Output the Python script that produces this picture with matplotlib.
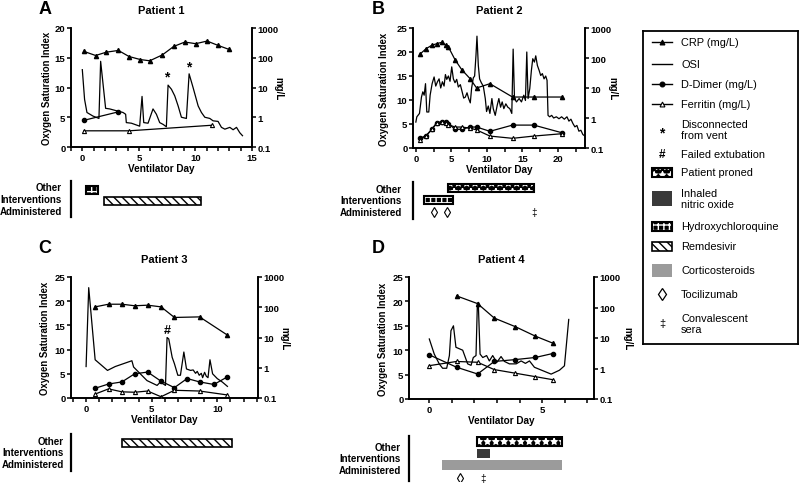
import matplotlib.pyplot as plt
from matplotlib.patches import Rectangle
from matplotlib.ticker import FixedLocator, MultipleLocator, FuncFormatter, NullLocator

plt.rcParams['font.family'] = ['Liberation Sans', 'DejaVu Sans']
plt.rcParams['font.weight'] = 'bold'
plt.rcParams['axes.labelweight'] = 'bold'
plt.rcParams['hatch.linewidth'] = 1.0

# ---------------- Patient 1 ----------------
p1_osi_day = [0, 0.2, 0.41, 0.94, 1.47, 1.62, 2.06, 2.42, 3.0, 3.6, 3.83, 3.89, 4.34, 4.78, 5.07,
              5.28, 5.43, 5.81, 6.25, 6.55, 6.84, 7.14, 7.43, 7.58, 7.88, 8.17, 8.47, 8.76, 9.2,
              9.44, 9.79, 10.24, 10.53, 10.83, 11.27, 11.56, 12.0, 12.3, 12.6, 13.04, 13.33, 13.63,
              13.92, 14.16]
p1_osi = [13.0, 8.0, 5.8, 5.2, 4.8, 14.4, 6.5, 6.4, 6.1, 5.8, 5.5, 4.1, 4.0, 3.7, 3.5,
          8.5, 4.1, 4.0, 6.4, 5.5, 4.1, 3.8, 3.4, 10.4, 9.7, 8.6, 6.9, 5.0, 4.8,
          12.3, 10.0, 6.9, 5.8, 5.0, 4.8, 4.4, 4.3, 3.3, 3.0, 3.3, 2.9, 3.3, 2.4, 1.9]
p1_crp_day = [0.15, 1.18, 2.12, 3.19, 4.13, 5.13, 5.96, 7.08, 8.08, 9.06, 10.03, 11.03, 12.0, 12.98]
p1_crp = [163, 119, 154, 176, 110, 87, 79, 125, 240, 337, 297, 364, 260, 190]
p1_dd_day = [0.15, 3.19]
p1_dd = [0.79, 1.52]
p1_fer_day = [0.15, 4.13, 11.5]
p1_fer = [0.35, 0.35, 0.54]
p1_disconnect_day = [7.5, 9.44]
p1_disconnect_osi = [10.6, 12.4]
p1_drug = ['hcq', 'rem']
p1_drug_start = [0.35, 1.95]
p1_drug_end = [1.4, 10.5]

# ---------------- Patient 2 ----------------
p2_osi_day = [0, 0.14, 0.51, 0.79, 0.98, 1.17, 1.36, 1.54, 1.82, 2.01, 2.29, 2.57, 2.8, 3.04, 3.27,
              3.5, 3.74, 3.97, 4.16, 4.35, 4.58, 4.81, 5.05, 5.28, 5.51, 5.75, 5.98, 6.26, 6.5,
              6.73, 6.96, 7.2, 7.43, 7.66, 7.85, 8.08, 8.27, 8.46, 8.6, 8.79, 8.97, 9.21, 9.49,
              9.77, 9.95, 10.19, 10.42, 10.7, 10.89, 11.17, 11.45, 11.68, 11.92, 12.15, 12.38,
              12.66, 12.94, 13.22, 13.5, 13.69, 13.88, 14.16, 14.53, 14.86, 15.19, 15.42, 15.61,
              15.79, 16.03, 16.26, 16.45, 16.68, 16.87, 17.1, 17.34, 17.57, 17.8, 18.04, 18.27,
              18.46, 18.6, 18.83, 19.11, 19.39, 19.77, 20.14, 20.51, 20.89, 21.26, 21.54, 21.82,
              22.1, 22.38, 22.66, 22.94, 23.22, 23.5, 23.79]
p2_osi = [5.4, 6.5, 7.2, 10.6, 11.7, 11.0, 13.4, 7.5, 7.5, 11.0, 13.4, 14.8, 12.9, 13.8, 14.4,
          12.5, 13.8, 12.9, 15.3, 14.3, 15.0, 13.9, 16.9, 14.4, 13.6, 14.3, 12.7, 13.2, 11.8,
          10.4, 10.6, 11.5, 10.3, 9.4, 12.5, 14.6, 15.0, 19.3, 23.3, 17.2, 14.4, 13.6, 12.9,
          10.3, 7.6, 8.75, 7.2, 10.3, 8.2, 6.8, 8.9, 10.3, 8.5, 9.6, 8.2,
          9.2, 8.5, 8.2, 7.2, 20.6, 10.3, 9.6, 10.3, 9.6, 11.0, 9.9, 20.0,
          10.3, 12.4, 16.2, 18.6, 17.9, 19.2, 17.2, 16.2, 15.1, 15.5, 14.4, 15.0,
          14.1, 6.8, 6.5, 6.8, 6.25, 6.5, 6.1, 6.5, 6.0, 6.5, 5.6, 6.0,
          5.1, 4.4, 4.7, 3.5, 3.7, 2.8, 2.5]
p2_lab_day = [0.61, 1.45, 2.24, 2.94, 3.64, 4.2, 4.58, 5.51, 6.45, 7.62, 8.55, 10.42, 13.6, 16.6, 20.6]
p2_crp = [136, 205, 265, 300, 333, 265, 233, 88, 41, 20.6, 10, 13.9, 5.0, 5.0, 5.0]
p2_dd = [0.21, 0.26, 0.42, 0.70, 0.74, 0.74, 0.65, 0.42, 0.42, 0.5, 0.5, 0.36, 0.58, 0.58, 0.32]
p2_fer = [0.19, 0.25, 0.42, 0.66, 0.74, 0.70, 0.60, 0.5, 0.5, 0.46, 0.40, 0.25, 0.21, 0.25, 0.30]
p2_drug = ['proned', 'hcq']
p2_drug_start = [4.5, 1.1]
p2_drug_end = [16.6, 5.2]
p2_toci_day = [2.5, 4.4]
p2_sera_day = [16.6]

# ---------------- Patient 3 ----------------
p3_osi_day = [0, 0.2, 0.69, 1.63, 2.22, 3.49, 3.62, 4.64, 5.41, 5.66, 6.05, 6.17, 6.3, 6.56, 6.73,
              6.99, 7.19, 7.45, 7.65, 7.96, 8.16, 8.34, 8.47, 8.62, 8.78, 8.88, 9.03, 9.16, 9.29,
              9.44, 9.64, 10.0, 10.38, 10.77]
p3_osi = [6.5, 22.8, 7.9, 5.7, 6.5, 7.7, 6.4, 3.6, 2.6, 3.3, 2.6, 12.5, 12.2, 8.4, 7.1,
          4.7, 4.7, 9.5, 6.0, 5.7, 5.8, 5.1, 5.5, 4.7, 5.1, 4.2, 5.3, 4.5, 4.2,
          7.9, 5.0, 4.0, 3.3, 2.4]
p3_crp_day = [0.69, 1.71, 2.73, 3.7, 4.69, 5.71, 6.73, 8.65, 10.77]
p3_crp = [103, 126, 126, 112, 117, 103, 46, 48, 12]
p3_dd_day = [0.69, 1.71, 2.73, 3.7, 4.69, 5.71, 6.73, 7.7, 8.65, 9.74, 10.77]
p3_dd = [0.21, 0.29, 0.34, 0.63, 0.72, 0.36, 0.22, 0.44, 0.34, 0.28, 0.5]
p3_fer_day = [0.69, 1.71, 2.73, 3.7, 4.69, 5.71, 6.73, 8.65, 10.77]
p3_fer = [0.135, 0.2, 0.16, 0.155, 0.17, 0.11, 0.18, 0.17, 0.126]
p3_failed_day = [6.17]
p3_failed_osi = [12.9]
p3_drug = ['rem']
p3_drug_start = [2.7]
p3_drug_end = [11.1]

# ---------------- Patient 4 ----------------
p4_osi_day = [0, 0.22, 0.44, 0.59, 0.77, 0.89, 0.96, 1.07, 1.18, 1.48, 1.7, 1.85, 1.95, 2.07,
              2.13, 2.17, 2.25, 2.37, 2.54, 2.66, 2.81, 2.99, 3.18, 3.33, 3.55, 3.85, 4.07,
              4.26, 4.44, 4.66, 5.03, 5.4, 5.77, 5.99, 6.18]
p4_osi = [12.3, 9.2, 7.2, 6.3, 6.3, 8.9, 14.0, 15.0, 10.6, 10.0, 7.2, 6.9, 8.5, 8.9,
          19.4, 19.8, 9.2, 8.5, 8.9, 7.8, 8.9, 7.5, 8.7, 7.7, 7.2, 7.2, 7.8,
          7.3, 7.8, 6.5, 5.8, 5.1, 5.9, 6.8, 16.3]
p4_crp_day = [1.21, 2.14, 2.88, 3.82, 4.7, 5.47]
p4_crp = [240, 134, 45, 23.4, 11.5, 6.8]
p4_lab_day = [0, 1.21, 2.14, 2.88, 3.82, 4.7, 5.47]
p4_dd = [2.8, 1.1, 0.66, 1.7, 1.96, 2.3, 3.1]
p4_fer = [1.24, 1.7, 1.6, 0.92, 0.7, 0.54, 0.43]
p4_drug = ['proned', 'ino', 'steroid']
p4_drug_start = [2.1, 2.1, 0.57]
p4_drug_end = [5.9, 2.7, 5.9]
p4_toci_day = [1.37]
p4_sera_day = [2.4]

W, H = 800, 485
fig = plt.figure(figsize=(8, 4.85), dpi=100)


def rect(l, t, r, b):
    return [l / W, 1 - b / H, (r - l) / W, (b - t) / H]


def draw_box(ax, x, y, w, h, kind):
    # y is the top edge in an inverted-y axes
    if kind == 'rem':
        ax.add_patch(Rectangle((x, y), w, h, fc='white', ec='black', hatch='\\\\\\\\', lw=1.2))
    elif kind in ('proned', 'hcq'):
        hatch = '**' if kind == 'proned' else '+++'
        ax.add_patch(Rectangle((x, y), w, h, fc='black', ec='white', hatch=hatch, lw=0))
        ax.add_patch(Rectangle((x, y), w, h, fill=False, ec='black', lw=1.5))
    elif kind == 'ino':
        ax.add_patch(Rectangle((x, y), w, h, fc='#3a3a3a', ec='none'))
    elif kind == 'steroid':
        ax.add_patch(Rectangle((x, y), w, h, fc='#9b9b9b', ec='none'))


def panel(box, xlim, xminor, osi_max, osi_day, osi, crp_day, crp, dd_day, dd, fer_day, fer,
          title, ylab_x, mg_x):
    ax = fig.add_axes(rect(*box))
    ax2 = ax.twinx()
    ax.plot(osi_day, osi, color='black', lw=0.9)
    ax2.plot(crp_day, crp, '-^', color='black', ms=3, lw=0.9)
    ax2.plot(dd_day, dd, '-o', color='black', ms=3, lw=0.9)
    ax2.plot(fer_day, fer, '-^', color='black', mfc='white', ms=3, lw=0.9, mew=0.8)
    ax.set_xlim(xlim)
    ax.set_ylim(0, osi_max)
    ax2.set_yscale('log')
    ax2.set_ylim(0.1, 1000)
    ax.xaxis.set_major_locator(MultipleLocator(5))
    ax.xaxis.set_minor_locator(MultipleLocator(xminor))
    ax.yaxis.set_major_locator(MultipleLocator(5))
    ax2.yaxis.set_major_locator(FixedLocator([0.1, 1, 10, 100, 1000]))
    ax2.yaxis.set_minor_locator(NullLocator())
    ax2.yaxis.set_major_formatter(FuncFormatter(lambda v, p: '%g' % v))
    for a in (ax, ax2):
        a.spines['top'].set_visible(False)
        for s in ('left', 'right', 'bottom'):
            a.spines[s].set_linewidth(1.2)
        a.tick_params(which='both', direction='out', length=3, width=1.1, labelsize=6.8, pad=1)
    ax.set_xlabel('Ventilator Day', fontsize=7.2, labelpad=1)
    fig.text(ylab_x / W, 1 - (box[1] + box[3]) / 2 / H, 'Oxygen Saturation Index', fontsize=6.9,
             rotation=90, ha='center', va='center')
    fig.text(mg_x / W, 1 - (box[1] + box[3]) / 2 / H, 'mg/L', fontsize=7,
             rotation=270, ha='center', va='center')
    ax.set_title(title, fontsize=8, fontweight='bold', pad=11)
    return ax


def interventions(box, xlim, kinds, starts, ends, lanes, heights, label_x, toci=(), sera=(), mark_y=0):
    iax = fig.add_axes(rect(*box))
    iax.patch.set_alpha(0)
    iax.set_xlim(xlim)
    iax.set_ylim(box[3] - box[1], 0)
    for s in ('top', 'right', 'bottom'):
        iax.spines[s].set_visible(False)
    iax.spines['left'].set_linewidth(1.6)
    iax.set_xticks([])
    iax.set_yticks([])
    for k, s, e, yc, hh in zip(kinds, starts, ends, lanes, heights):
        draw_box(iax, s, yc - hh / 2, e - s, hh, k)
    for d in toci:
        iax.plot(d, mark_y, marker='d', ms=5, mfc='white', mec='black', mew=0.8)
    for d in sera:
        iax.text(d, mark_y, '\u2021', fontsize=7, ha='center', va='center', fontweight='normal')
    fig.text(label_x / W, 1 - (box[1] + box[3]) / 2 / H, 'Other\nInterventions\nAdministered',
             fontsize=7, ha='right', va='center', multialignment='right', linespacing=1.2)


# Panel A
axA = panel((71, 29, 252, 148), (-1, 15), 1, 20, p1_osi_day, p1_osi, p1_crp_day, p1_crp,
            p1_dd_day, p1_dd, p1_fer_day, p1_fer, 'Patient 1', 47, 278)
for d, v in zip(p1_disconnect_day, p1_disconnect_osi):
    axA.text(d, v, '*', fontsize=10, ha='center', va='bottom')
interventions((71, 182, 252, 218), (-1, 15), p1_drug, p1_drug_start, p1_drug_end,
              [9, 20], [8, 8], 62)

# Panel B
panel((413, 29, 585, 149), (-0.4, 23.8), 2.5, 25, p2_osi_day, p2_osi, p2_lab_day, p2_crp,
      p2_lab_day, p2_dd, p2_lab_day, p2_fer, 'Patient 2', 384, 612)
interventions((413, 183, 585, 220), (-0.4, 23.8), p2_drug, p2_drug_start, p2_drug_end,
              [5.5, 18], [8, 8], 402, p2_toci_day, p2_sera_day, 30)

# Panel C
axC = panel((71, 278, 258, 399), (-1.15, 13.1), 1, 25, p3_osi_day, p3_osi, p3_crp_day, p3_crp,
            p3_dd_day, p3_dd, p3_fer_day, p3_fer, 'Patient 3', 45, 284)
for d, v in zip(p3_failed_day, p3_failed_osi):
    axC.text(d, v, '#', fontsize=9, ha='center', va='bottom')
interventions((71, 435, 258, 472), (-1.15, 13.1), p3_drug, p3_drug_start, p3_drug_end,
              [9], [8], 64)

# Panel D
panel((409, 278, 594, 400), (-0.9, 7.3), 1, 25, p4_osi_day, p4_osi, p4_crp_day, p4_crp,
      p4_lab_day, p4_dd, p4_lab_day, p4_fer, 'Patient 4', 383, 627)
interventions((409, 437, 594, 482), (-0.9, 7.3), p4_drug, p4_drug_start, p4_drug_end,
              [5.5, 17.5, 29], [9, 9, 10], 401, p4_toci_day, p4_sera_day, 42)

# panel letters
for txt, x, y in [('A', 45, 9), ('B', 378, 9), ('C', 45, 249), ('D', 378, 249)]:
    fig.text(x / W, 1 - y / H, txt, fontsize=13, fontweight='bold', ha='center', va='center')

# legend box
lax = fig.add_axes(rect(643, 32, 798, 345))
lax.set_xlim(0, 155)
lax.set_ylim(313, 0)
lax.set_xticks([])
lax.set_yticks([])
for s in lax.spines.values():
    s.set_linewidth(1.3)

leg_rows = [
    ('crp', 'CRP (mg/L)', 11), ('osi', 'OSI', 33), ('dd', 'D-Dimer (mg/L)', 53),
    ('fer', 'Ferritin (mg/L)', 73), ('star', 'Disconnected\nfrom vent', 98.5),
    ('hash', 'Failed extubation', 123), ('proned', 'Patient proned', 141),
    ('ino', 'Inhaled\nnitric oxide', 167.5), ('hcq', 'Hydroxychloroquine', 195),
    ('rem', 'Remdesivir', 215), ('steroid', 'Corticosteroids', 239),
    ('toci', 'Tocilizumab', 263), ('sera', 'Convalescent\nsera', 292.5),
]
box_h = {'proned': 9, 'ino': 15, 'hcq': 9, 'rem': 9, 'steroid': 13}
for kind, label, y in leg_rows:
    if kind in ('crp', 'dd', 'fer', 'osi'):
        lax.plot([9, 29], [y, y], color='black', lw=1.0)
        if kind != 'osi':
            mk = 'o' if kind == 'dd' else '^'
            lax.plot(19, y, marker=mk, color='black', ms=3.5,
                     mfc='white' if kind == 'fer' else 'black', mew=0.8)
    elif kind == 'star':
        lax.text(19, y + 3, '*', fontsize=10, ha='center', va='center')
    elif kind == 'hash':
        lax.text(19, y, '#', fontsize=8.5, ha='center', va='center')
    elif kind == 'toci':
        lax.plot(19, y, marker='d', ms=6.5, mfc='white', mec='black', mew=0.9)
    elif kind == 'sera':
        lax.text(19, y, '\u2021', fontsize=8, ha='center', va='center', fontweight='normal')
    else:
        hh = box_h[kind]
        draw_box(lax, 9, y - hh / 2, 20, hh, kind)
    lax.text(38, y, label, fontsize=7.9, fontweight='normal', ha='left', va='center',
             linespacing=1.15)

fig.savefig('out.png', dpi=100)
